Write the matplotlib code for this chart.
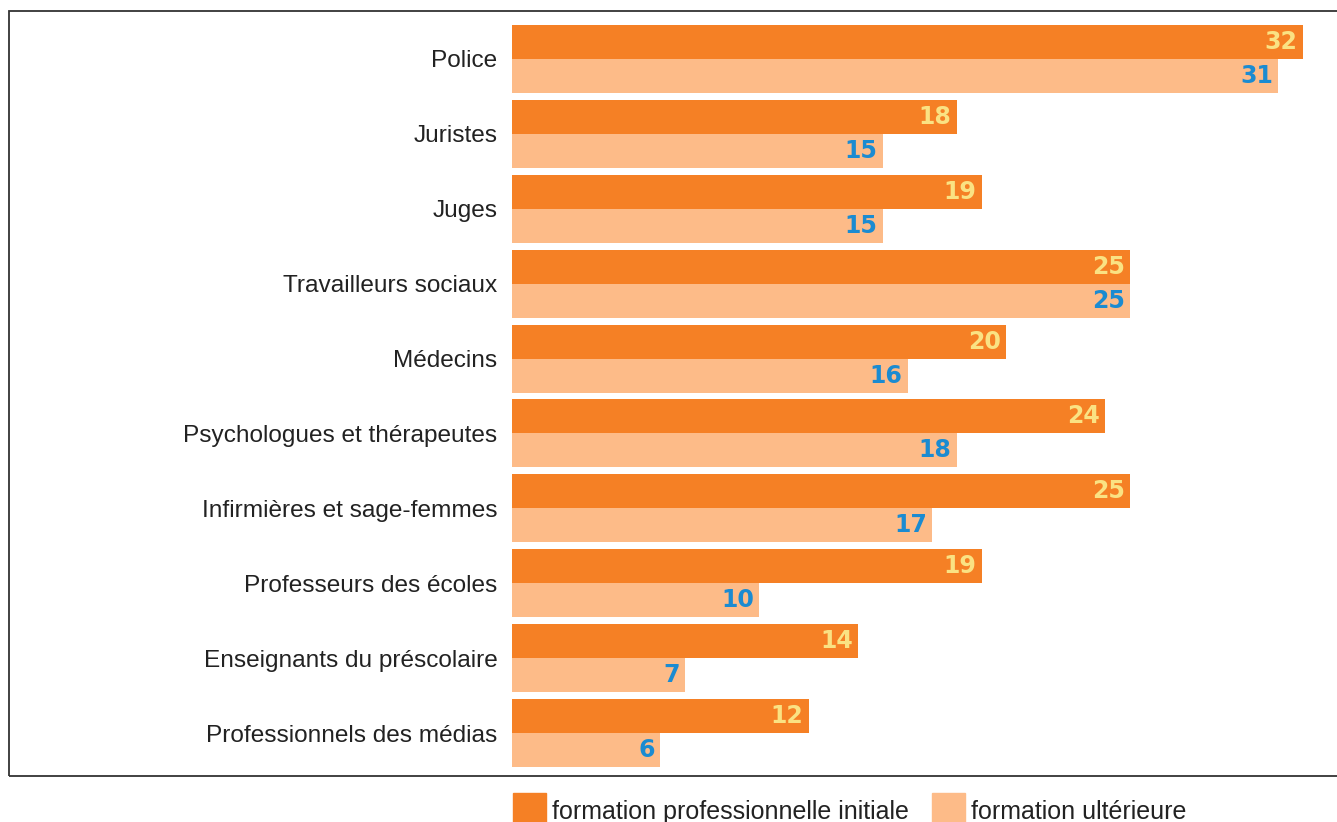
import matplotlib.pyplot as plt
from matplotlib.patches import Rectangle

categories = ["Police", "Juristes", "Juges", "Travailleurs sociaux", "Médecins",
              "Psychologues et thérapeutes", "Infirmières et sage-femmes",
              "Professeurs des écoles", "Enseignants du préscolaire",
              "Professionnels des médias"]
initiale = [32, 18, 19, 25, 20, 24, 25, 19, 14, 12]
ulterieure = [31, 15, 15, 25, 16, 18, 17, 10, 7, 6]
series_names = ["formation professionnelle initiale", "formation ultérieure"]

orange = "#F58025"
light = "#FDBB88"
plt.rcParams['font.family'] = ['Liberation Sans', 'DejaVu Sans']

W, H = 1337, 822
fig = plt.figure(figsize=(W / 100, H / 100), dpi=100)

# frame around the chart
fig.patches.append(Rectangle((9 / W, 1 - 776 / H), 1.0, (776 - 11) / H,
                             transform=fig.transFigure, fill=False,
                             edgecolor="#333333", linewidth=1.3))

ax = fig.add_axes([512 / W, 1 - 767 / H, 24.72 * 33 / W, (767 - 25) / H])
h = 34 / 75
ypos = list(range(len(categories)))
ax.barh([y - h / 2 for y in ypos], initiale, height=h, color=orange)
ax.barh([y + h / 2 for y in ypos], ulterieure, height=h, color=light)
ax.set_xlim(0, 33)
ax.set_ylim(len(categories) - 1 + h, -h)

for y, a, b in zip(ypos, initiale, ulterieure):
    ax.text(a - 0.22, y - h / 2, str(a), ha="right", va="center",
            color="#FAE283", fontsize=17, fontweight="bold", family="DejaVu Sans")
    ax.text(b - 0.22, y + h / 2, str(b), ha="right", va="center",
            color="#1B8BD1", fontsize=17, fontweight="bold", family="DejaVu Sans")

ax.set_yticks(ypos)
ax.set_yticklabels(categories, fontsize=17.6, color="#222222")
ax.tick_params(axis="y", length=0, pad=10.5)
ax.set_xticks([])
for s in ax.spines.values():
    s.set_visible(False)

# legend at the bottom
for x0, col, name in [(513, orange, series_names[0]), (932, light, series_names[1])]:
    fig.patches.append(Rectangle((x0 / W, 1 - 823 / H), 33 / W, 30 / H,
                                 transform=fig.transFigure, color=col))
    fig.text((x0 + 39) / W, 1 - 819 / H, name, fontsize=18, color="#222222",
             va="baseline", ha="left")

fig.savefig("out.png", dpi=100)
